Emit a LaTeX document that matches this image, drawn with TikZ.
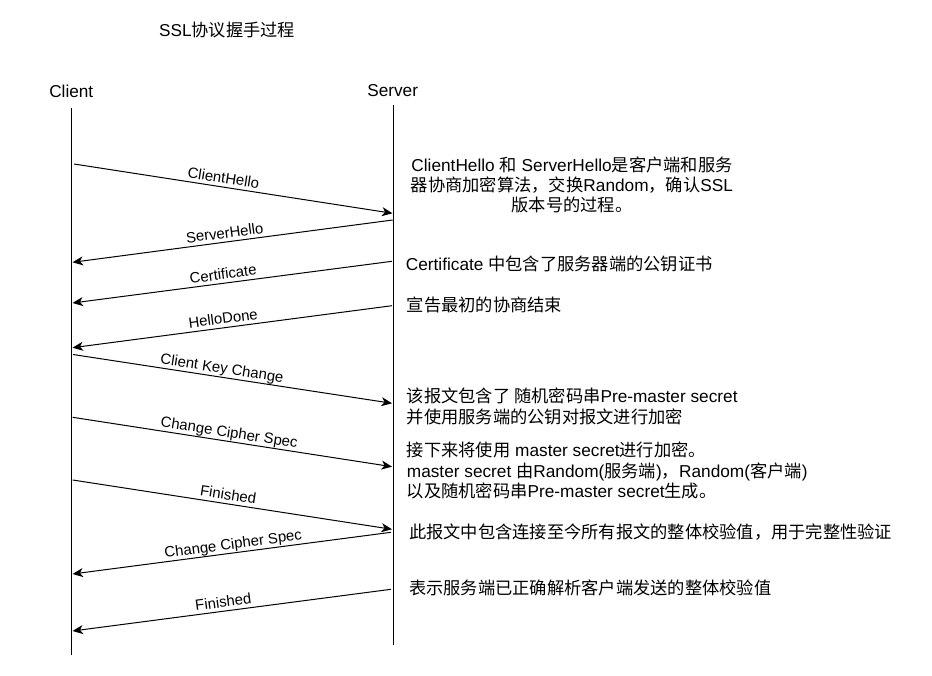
\documentclass[tikz,border=0pt]{standalone}
\usepackage{fontspec}
\setmainfont{Liberation Sans}
\newfontfamily\cjk{Noto Sans CJK SC}
\newcommand\zh[1]{{\cjk #1}}
\usetikzlibrary{arrows.meta}
\tikzset{
  lifeline/.style={line width=1pt, draw=black},
  msg/.style={line width=1pt, draw=black, -{Stealth[length=10.5pt,width=9pt,inset=3pt]}},
  msglabel/.style={sloped, above=3.5pt, inner sep=0pt, text depth=0pt, font=\fontsize{14.9}{17}\selectfont},
  actor/.style={inner sep=0pt, font=\fontsize{17.2}{20}\selectfont},
  note/.style={inner sep=0pt, align=left, anchor=west, font=\fontsize{17.25}{20.3}\selectfont},
}
\begin{document}
\begin{tikzpicture}[x=1pt,y=-1pt]
\useasboundingbox (0,0) rectangle (932,676);
% title and actors
\node[actor] (title) at (227,30) {SSL\zh{协议握手过程}};
\node[actor] (client) at (71.3,91) {Client};
\node[actor] (server) at (392.7,91) {Server};
% lifelines
\coordinate (ctop) at (71,108);
\coordinate (cbot) at (71,655);
\coordinate (stop) at (393,105);
\coordinate (sbot) at (393,645);
\draw[lifeline] (ctop) -- (cbot);
\draw[lifeline] (stop) -- (sbot);
% message end points
\coordinate (c1) at (74,164);    \coordinate (s1) at (392.5,213.3);
\coordinate (s2) at (392.7,220); \coordinate (c2) at (72.5,262.3);
\coordinate (s3) at (392,261.3); \coordinate (c3) at (72.5,303);
\coordinate (s4) at (392,305.7); \coordinate (c4) at (72.5,347.7);
\coordinate (c5) at (73,354.5);  \coordinate (s5) at (392,403.3);
\coordinate (c6) at (72.7,417.3);\coordinate (s6) at (392,466.7);
\coordinate (c7) at (72.7,480);  \coordinate (s7) at (392,529.3);
\coordinate (s8) at (391,532.3); \coordinate (c8) at (72.5,574);
\coordinate (s9) at (391,589.3); \coordinate (c9) at (72.5,631);
% messages
\draw[msg] (c1) -- node[msglabel,pos=0.465] (l1) {ClientHello} (s1);
\draw[msg] (s2) -- node[msglabel,pos=0.521] (l2) {ServerHello} (c2);
\draw[msg] (s3) -- node[msglabel,pos=0.525] (l3) {Certificate} (c3);
\draw[msg] (s4) -- node[msglabel,pos=0.525] (l4) {HelloDone} (c4);
\draw[msg] (c5) -- node[msglabel,pos=0.463] (l5) {Client Key Change} (s5);
\draw[msg] (c6) -- node[msglabel,pos=0.486] (l6) {Change Cipher Spec} (s6);
\draw[msg] (c7) -- node[msglabel,pos=0.483] (l7) {Finished} (s7);
\draw[msg] (s8) -- node[msglabel,pos=0.492] (l8) {Change Cipher Spec} (c8);
\draw[msg] (s9) -- node[msglabel,pos=0.523] (l9) {Finished} (c9);
% notes
\node[note, align=center, anchor=center] (n1) at (572,185)
  {ClientHello \zh{和} ServerHello\zh{是客户端和服务}\\\zh{器协商加密算法，交换}Random\zh{，确认}SSL\\\zh{版本号的过程。}};
\node[note] (n2) at (405.7,264) {Certificate \zh{中包含了服务器端的公钥证书}};
\node[note] (n3) at (406.7,305) {\zh{宣告最初的协商结束}};
\node[note] (n4) at (406.7,406.4)
  {\zh{该报文包含了 随机密码串}Pre-master secret\\\zh{并使用服务端的公钥对报文进行加密}};
\node[note] (n5) at (406.7,470.7)
  {\zh{接下来将使用} master secret\zh{进行加密。}\\master secret \zh{由}Random(\zh{服务端})\zh{，}Random(\zh{客户端})\\\zh{以及随机密码串}Pre-master secret\zh{生成。}};
\node[note] (n6) at (409,531.7) {\zh{此报文中包含连接至今所有报文的整体校验值，用于完整性验证}};
\node[note] (n7) at (409,588.3) {\zh{表示服务端已正确解析客户端发送的整体校验值}};
\end{tikzpicture}
\end{document}
